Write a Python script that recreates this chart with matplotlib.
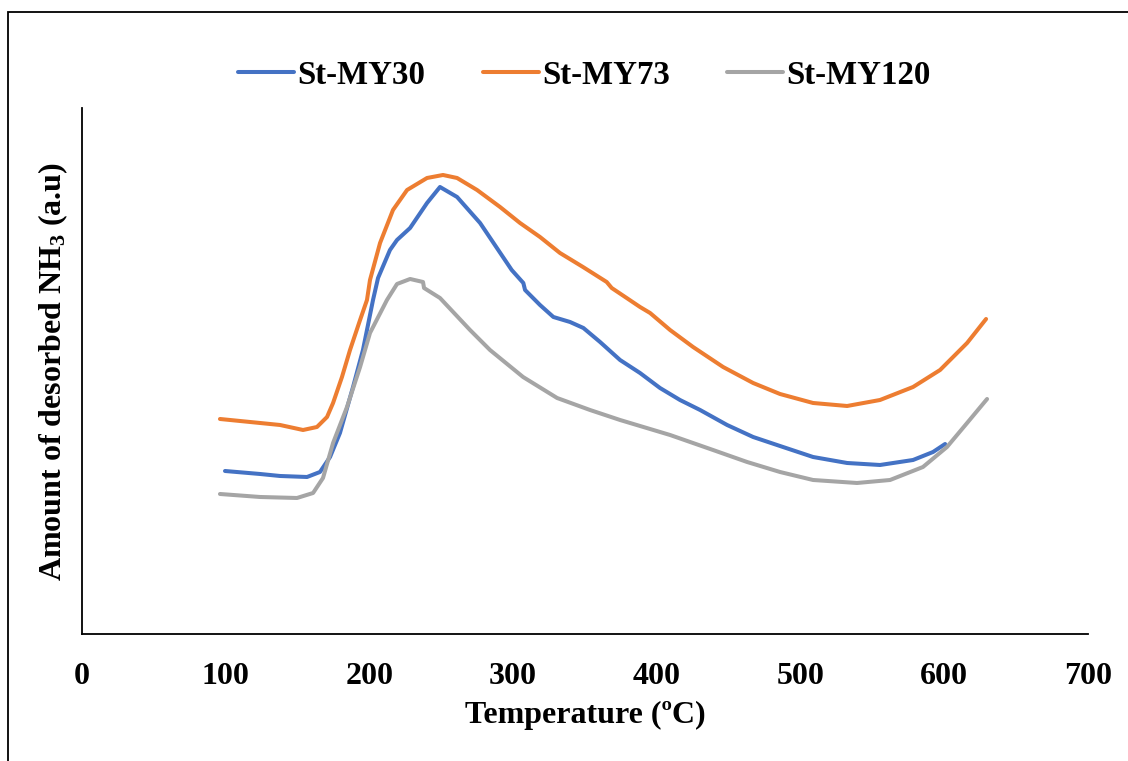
import matplotlib
matplotlib.use("Agg")
import matplotlib.pyplot as plt
from matplotlib.patches import Rectangle

plt.rcParams['font.family'] = ['Liberation Serif', 'DejaVu Serif']
plt.rcParams['font.weight'] = 'bold'
plt.rcParams['mathtext.fontset'] = 'custom'
plt.rcParams['mathtext.rm'] = 'Liberation Serif:bold'
plt.rcParams['mathtext.bf'] = 'Liberation Serif:bold'
plt.rcParams['mathtext.default'] = 'regular'

# St-MY30 (blue)
t_30 = [99.5, 123.9, 137.8, 156.6, 165.6, 172.6, 179.5, 188.6, 195.5, 202.5,
        206.0, 214.3, 219.2, 228.3, 240.1, 249.1, 261.0, 277.0, 299.0, 307.1,
        308.3, 318.7, 328.0, 339.6, 348.9, 360.5, 374.4, 388.3, 402.2, 416.1,
        430.1, 448.9, 467.0, 485.7, 508.7, 532.4, 555.3, 578.3, 592.2, 600.6]
y_30 = [1.63, 1.60, 1.58, 1.57, 1.62, 1.77, 2.01, 2.47, 2.84, 3.34,
        3.56, 3.84, 3.94, 4.06, 4.31, 4.47, 4.37, 4.11, 3.64, 3.51,
        3.44, 3.29, 3.17, 3.12, 3.06, 2.92, 2.74, 2.61, 2.46, 2.34,
        2.24, 2.09, 1.97, 1.88, 1.77, 1.71, 1.69, 1.74, 1.82, 1.90]

# St-MY73 (orange)
t_73 = [96.0, 123.9, 137.8, 153.8, 163.5, 170.5, 174.7, 180.9, 186.5, 193.5,
        198.3, 200.4, 207.4, 216.4, 226.2, 240.1, 251.2, 261.0, 274.9, 290.9,
        304.8, 318.7, 332.6, 348.6, 365.1, 368.6, 379.0, 388.3, 395.3, 409.2,
        425.2, 446.1, 467.0, 485.7, 508.7, 532.4, 555.3, 578.3, 597.1, 615.9,
        629.1]
y_73 = [2.15, 2.11, 2.09, 2.04, 2.07, 2.17, 2.31, 2.57, 2.84, 3.14,
        3.34, 3.54, 3.91, 4.24, 4.44, 4.56, 4.59, 4.56, 4.44, 4.27,
        4.11, 3.97, 3.81, 3.67, 3.52, 3.46, 3.36, 3.27, 3.21, 3.04,
        2.87, 2.67, 2.51, 2.40, 2.31, 2.28, 2.34, 2.47, 2.64, 2.91,
        3.15]

# St-MY120 (grey)
t_120 = [96.0, 123.9, 149.6, 160.8, 167.7, 174.7, 184.4, 193.5, 200.4, 212.2,
         219.2, 228.3, 237.3, 238.0, 249.1, 270.0, 283.9, 306.9, 330.6, 353.5,
         374.4, 409.2, 439.1, 462.8, 485.7, 508.7, 539.3, 562.3, 585.2, 601.9,
         615.9, 629.8]
y_120 = [1.40, 1.37, 1.36, 1.41, 1.56, 1.91, 2.27, 2.67, 3.01, 3.34,
         3.50, 3.55, 3.52, 3.46, 3.36, 3.04, 2.84, 2.57, 2.36, 2.24,
         2.14, 1.99, 1.84, 1.72, 1.62, 1.54, 1.51, 1.54, 1.67, 1.87,
         2.11, 2.35]

x_ticks = [0, 100, 200, 300, 400, 500, 600, 700]

fig = plt.figure(figsize=(11.28, 7.61), dpi=100)
ax = fig.add_axes([0.0727, 0.1669, 0.8918, 0.6912])

style = dict(lw=2.9, solid_capstyle='round', solid_joinstyle='round')
ax.plot(t_30, y_30, color='#4472C4', label='St-MY30', **style)
ax.plot(t_73, y_73, color='#ED7D31', label='St-MY73', **style)
ax.plot(t_120, y_120, color='#A5A5A5', label='St-MY120', **style)

ax.set_xlim(0, 700)
ax.set_ylim(0, 5.26)
ax.set_xticks(x_ticks)
ax.set_yticks([])
ax.tick_params(axis='x', length=0, pad=20, labelsize=23)
for lab in ax.get_xticklabels():
    lab.set_fontweight('bold')

for side in ['top', 'right']:
    ax.spines[side].set_visible(False)
for side in ['left', 'bottom']:
    ax.spines[side].set_linewidth(1.3)

ax.set_xlabel('Temperature (ºC)', fontsize=23, fontweight='bold', labelpad=7)
ax.set_ylabel(r'Amount of desorbed NH$_3$ (a.u)', fontsize=23, fontweight='bold', labelpad=9)

fig.legend(loc='center', bbox_to_anchor=(0.518, 0.901), ncol=3, frameon=False,
           handlelength=1.7, handletextpad=0.1, columnspacing=1.75,
           prop={'weight': 'bold', 'size': 23.7})

# outer frame
fig.patches.append(Rectangle((8 / 1128, -0.1), 1.2, 1 - 12 / 761 + 0.1,
                             transform=fig.transFigure, fill=False,
                             edgecolor='black', linewidth=1.3))

fig.savefig('out.png', dpi=100)
